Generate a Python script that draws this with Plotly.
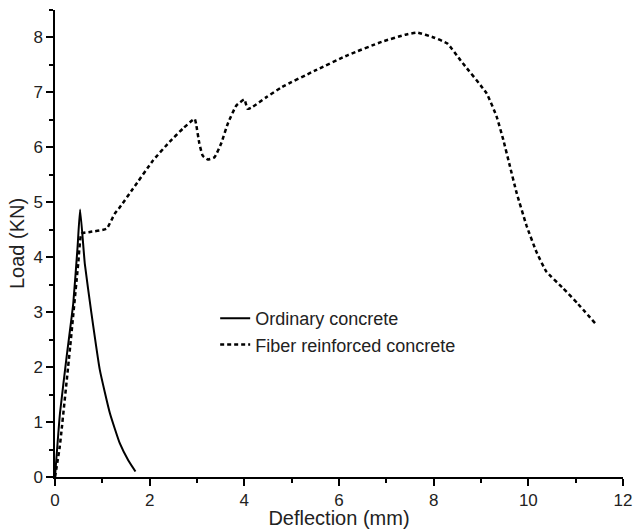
import plotly.graph_objects as go

# Ordinary concrete
ord_x = [0, 0.105, 0.246, 0.386, 0.477, 0.53, 0.63, 0.77, 0.947, 1.16, 1.37, 1.55, 1.7]
ord_y = [0, 1.16, 2.19, 3.16, 4.19, 4.87, 3.88, 2.98, 1.95, 1.16, 0.61, 0.3, 0.1]

# Fiber reinforced concrete
fib_x = [0, 0.1, 0.32, 0.49, 0.56, 0.74, 1.09, 1.26, 1.37, 1.65, 2.07, 2.42, 2.7, 2.95,
         2.98, 3.05, 3.12, 3.23, 3.37, 3.51, 3.65, 3.83, 4.0, 4.07, 4.18, 4.46, 4.8,
         5.5, 6.19, 6.9, 7.4, 7.65, 8.0, 8.29, 8.57, 9.12, 9.33, 9.47, 9.61, 9.75,
         9.96, 10.17, 10.38, 10.73, 11.05, 11.41]
fib_y = [0, 0.55, 2.37, 3.88, 4.43, 4.46, 4.52, 4.79, 4.91, 5.25, 5.76, 6.1, 6.34, 6.52,
         6.43, 6.07, 5.85, 5.78, 5.82, 6.07, 6.43, 6.76, 6.87, 6.7, 6.74, 6.91, 7.1,
         7.4, 7.68, 7.92, 8.05, 8.09, 8.0, 7.89, 7.58, 6.98, 6.56, 6.14, 5.66, 5.18,
         4.58, 4.1, 3.74, 3.44, 3.15, 2.8]

FONT = "Liberation Sans, Arial"
TXT = "#222"

fig = go.Figure()
fig.add_trace(go.Scatter(x=ord_x, y=ord_y, mode="lines", name="Ordinary concrete",
                         line=dict(color="black", width=2, shape="spline", smoothing=0.4)))
fig.add_trace(go.Scatter(x=fib_x, y=fib_y, mode="lines", name="Fiber reinforced concrete",
                         line=dict(color="black", width=2.5, dash="4px,3px", shape="spline", smoothing=0.4)))

axis_common = dict(
    showline=True, linecolor="black", linewidth=1.5, showgrid=False, zeroline=False,
    ticks="outside", ticklen=7, tickwidth=1.5, tickcolor="black", automargin=False,
    tickfont=dict(family=FONT, size=17, color=TXT), ticklabeloverflow="allow",
    minor=dict(ticks="outside", ticklen=4, tickwidth=1.5, tickcolor="black"),
)

fig.update_xaxes(range=[0, 12], dtick=2, minor_dtick=1,
                 title=dict(text="Deflection (mm)", standoff=0,
                            font=dict(family=FONT, size=20, color=TXT)),
                 **axis_common)
fig.update_yaxes(range=[0, 8.5], dtick=1, minor_dtick=0.5,
                 title=dict(text="Load (KN)", standoff=3,
                            font=dict(family=FONT, size=20, color=TXT)),
                 **axis_common)

fig.update_layout(
    width=634, height=529,
    margin=dict(l=55, r=11, t=10, b=52),
    paper_bgcolor="white", plot_bgcolor="white",
    showlegend=True,
    legend=dict(x=0.282, y=0.379, xanchor="left", yanchor="top",
                bgcolor="rgba(0,0,0,0)", tracegroupgap=0,
                font=dict(family=FONT, size=18, color=TXT)),
)

fig.write_html(
    "out.html",
    config={"displayModeBar": False},
    post_script="document.body.style.margin='0';document.body.style.overflow='hidden';",
)
